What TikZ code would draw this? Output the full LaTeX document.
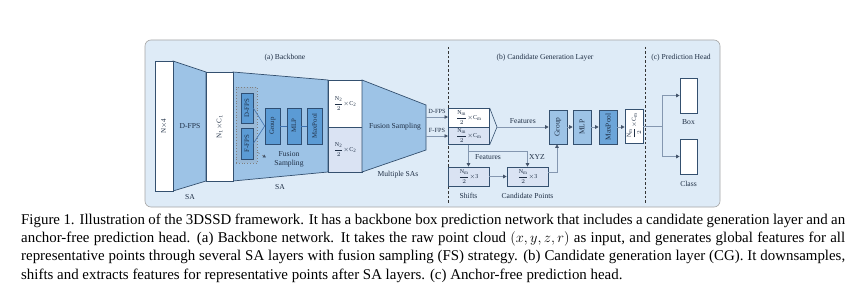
\documentclass[tikz,border=0pt]{standalone}
\usepackage{fontspec}
\setmainfont{Liberation Serif}
\usetikzlibrary{arrows.meta,calc}
\definecolor{panelbg}{HTML}{DEEBF7}
\definecolor{panelbd}{HTML}{A6A6A6}
\definecolor{trapfill}{HTML}{9DC3E6}
\definecolor{darkbd}{HTML}{34506F}
\definecolor{midfill}{HTML}{5B9BD5}
\definecolor{midbd}{HTML}{2E4E73}
\definecolor{lightfill}{HTML}{DAE3F3}
\definecolor{linec}{HTML}{8497B0}
\definecolor{tipc}{HTML}{44546A}
\definecolor{txtc}{HTML}{1F2F45}
\definecolor{bluel}{HTML}{3F72AF}
\newcommand{\myfr}[2]{{\fontsize{6}{6}\selectfont$\displaystyle\frac{\mathrm{#1}}{2}{\times}\mathrm{#2}$}}
\begin{document}
\begin{tikzpicture}[x=1pt,y=-1pt,
  lbl/.style={font=\fontsize{7.6}{8.5}\selectfont, text=txtc, inner sep=0pt},
  frl/.style={font=\fontsize{7}{8}\selectfont, text=txtc, inner sep=0pt},
  wbox/.style={draw=darkbd, line width=0.7pt, fill=white, inner sep=0pt, text=txtc},
  lbox/.style={draw=darkbd, line width=0.7pt, fill=lightfill, inner sep=0pt, text=txtc},
  mbox/.style={draw=midbd, line width=0.6pt, fill=midfill, inner sep=0pt, minimum width=14pt, minimum height=36pt, font=\fontsize{6.8}{7}\selectfont, text=txtc},
  cbox/.style={draw=darkbd, line width=0.6pt, fill=trapfill, inner sep=0pt, minimum width=18pt, minimum height=34pt, font=\fontsize{7.4}{8}\selectfont, text=txtc},
  trap/.style={draw=darkbd, line width=0.7pt, fill=trapfill},
  arr/.style={draw=linec, line width=0.7pt, -{Triangle[length=3.5pt,width=3.5pt,fill=tipc,color=tipc]}},
  ln/.style={draw=linec, line width=0.7pt},
  bl/.style={draw=bluel, line width=0.6pt},
  dsh/.style={draw=black!80, line width=0.6pt, dash pattern=on 2.5pt off 2pt},
  captxt/.style={font=\fontsize{14.9}{18.3}\selectfont, inner sep=0pt, anchor=base west}
]
\useasboundingbox (0,0) rectangle (866,294);
\fill[white] (0,0) rectangle (866,294);
% panel
\draw[panelbd, fill=panelbg, line width=0.6pt, rounded corners=6pt] (145,40) rectangle (720,207);

% ---------- Backbone ----------
\node[lbl] (ta) at (285,58) {(a) Backbone};
\draw[trap] (173,61) -- (206,72) -- (206,181) -- (173,191) -- cycle;
\node[lbl] (dfpsA) at (190,126) {D-FPS};
\node[wbox, minimum width=18pt, minimum height=130pt] (in) at (164,126) {};
\node[frl, rotate=90] (inl) at (in.center) {N$\times$4};
\draw[trap] (233,72) -- (328,80) -- (328,172) -- (233,181) -- cycle;
\node[wbox, minimum width=27pt, minimum height=109pt] (n1) at (219.5,126.5) {};
\node[frl, rotate=90] (n1l) at (n1.center) {N$_1$$\times$C$_1$};
\node[lbl] (sa1) at (190,197) {SA};
\node[lbl] (sa2) at (280,187) {SA};

\node[draw=gray, dotted, line width=0.8pt, fill=trapfill!85!gray, minimum width=21pt, minimum height=76pt, inner sep=0pt] (fsb) at (246.5,125) {};
\node[mbox, rotate=90, minimum width=30pt, minimum height=12pt] (dfps) at (247,108) {D-FPS};
\node[mbox, rotate=90, minimum width=31pt, minimum height=12pt] (ffps) at (247,143.5) {F-FPS};
\node[mbox, rotate=90, minimum width=36pt, minimum height=15pt] (grp) at (272.5,126) {Group};
\node[mbox, rotate=90, minimum width=36pt, minimum height=14pt] (mlp) at (294,126) {MLP};
\node[mbox, rotate=90, minimum width=36pt, minimum height=15pt] (mp) at (314.5,126) {MaxPool};
\draw[bl] (dfps.south) -- (grp.north);
\draw[bl] (ffps.south) -- (grp.north);
\draw[bl] (grp.south) -- (mlp.north);
\draw[bl] (mlp.south) -- (mp.north);
\coordinate (fsa) at (257,152);
\coordinate (fsb2) at (266,157.5);
\draw[draw=gray, line width=0.5pt, dashed, -{Triangle[length=3pt,width=3pt,fill=tipc,color=tipc]}] (fsa) -- (fsb2);
\node[lbl, align=center] (fsl) at (289,159.5) {Fusion\\Sampling};

\node[wbox, minimum width=34pt, minimum height=47pt] (n2a) at (345,103.5) {\myfr{N_2}{C_2}};
\node[lbox, minimum width=34pt, minimum height=45pt] (n2b) at (345,149.5) {\myfr{N_2}{C_2}};
\draw[trap] (362,80) -- (426,105) -- (426,150) -- (362,172) -- cycle;
\node[lbl] (fsl2) at (395,127) {Fusion Sampling};
\node[lbl] (msa) at (398,175) {Multiple SAs};
\node[lbl, font=\fontsize{6.3}{7}\selectfont] (dl) at (437,111) {D-FPS};
\node[lbl, font=\fontsize{6.3}{7}\selectfont] (fl) at (437,130) {F-FPS};
\coordinate (fo1) at (426,117);
\coordinate (fo2) at (426,136);

% ---------- Candidate generation ----------
\node[lbl] (tb) at (545,58) {(b) Candidate Generation Layer};
\node[lbl] (tc) at (681,58) {(c) Prediction Head};
\coordinate (d1t) at (448,47);
\coordinate (d1b) at (448,203);
\coordinate (d2t) at (645,47);
\coordinate (d2b) at (645,203);
\draw[dsh] (d1t) -- (d1b);
\draw[dsh] (d2t) -- (d2b);

\node[wbox, minimum width=41pt, minimum height=19pt, anchor=north west] (nma) at (448,108) {\myfr{N_m}{C_m}};
\node[lbox, minimum width=41pt, minimum height=17pt, anchor=north west] (nmb) at (448,127) {\myfr{N_m}{C_m}};
\draw[arr] (fo1) -- (fo1 -| nma.west);
\draw[arr] (fo2) -- (fo2 -| nmb.west);
\coordinate (tip) at (497,127);
\draw[draw=darkbd, line width=0.6pt] (nma.north east) -- (tip) -- (nmb.south east);

\node[cbox] (grp2) at (558,127) {\rotatebox{90}{Group}};
\node[cbox] (mlp2) at (582,127) {\rotatebox{90}{MLP}};
\node[cbox, fill=midfill!75!trapfill] (mp2) at (608,127) {\rotatebox{90}{MaxPool}};
\node[wbox, minimum width=18pt, minimum height=34pt] (out) at (634,126) {\rotatebox{90}{\myfr{N_m}{C_m}}};
\draw[arr] (tip) -- node[lbl, above=3pt] (featl) {Features} (grp2.west |- tip);
\draw[arr] (grp2.east |- tip) -- (mlp2.west |- tip);
\draw[arr] (mlp2.east |- tip) -- (mp2.west |- tip);
\draw[arr] (mp2.east |- tip) -- (out.west |- tip);

\node[lbox, minimum width=41pt, minimum height=19pt] (sh) at (468.5,176.5) {\myfr{N_m}{3}};
\node[lbox, minimum width=41pt, minimum height=19pt] (cp) at (527.5,176.5) {\myfr{N_m}{3}};
\node[lbl] (shl) at (468.5,195.5) {Shifts};
\node[lbl] (cpl) at (527.5,195.5) {Candidate Points};
\coordinate (br) at (469,151);
\draw[arr] (nmb.south -| sh.north) -- (sh.north);
\draw[arr] (br) -- (br -| cp.north) -- (cp.north);
\node[lbl] (f2l) at (488,157.5) {Features};
\node[lbl] (xyz) at (537,157.5) {XYZ};
\draw[arr] (sh.east) -- (cp.west);
\coordinate (cpo) at (557,172);
\draw[arr] (cp.east |- cpo) -- (cpo) -- (cpo |- grp2.south);

% ---------- Prediction head ----------
\node[wbox, minimum width=17pt, minimum height=35pt] (boxr) at (688.5,95.5) {};
\node[wbox, minimum width=17pt, minimum height=35pt] (clsr) at (688.5,156.5) {};
\node[lbl] (boxl) at (688.5,122.5) {Box};
\node[lbl] (clsl) at (688.5,184) {Class};
\coordinate (hb) at (662,126);
\draw[ln] (out.east) -- (hb);
\draw[arr] (hb) -- (hb |- boxr.west) -- (boxr.west);
\draw[arr] (hb) -- (hb |- clsr.west) -- (clsr.west);

% ---------- Caption ----------
\node[captxt] (c1) at (21,224.3) {\hbox to 824pt{Figure 1. Illustration of the 3DSSD framework. It has a backbone box prediction network that includes a candidate generation layer and an}};
\node[captxt] (c2) at (21,242.6) {\hbox to 824pt{anchor-free prediction head. (a) Backbone network. It takes the raw point cloud $(x,y,z,r)$ as input, and generates global features for all}};
\node[captxt] (c3) at (21,260.9) {\hbox to 824pt{representative points through several SA layers with fusion sampling (FS) strategy. (b) Candidate generation layer (CG). It downsamples,}};
\node[captxt] (c4) at (21,279.2) {shifts and extracts features for representative points after SA layers. (c) Anchor-free prediction head.};
\end{tikzpicture}
\end{document}
